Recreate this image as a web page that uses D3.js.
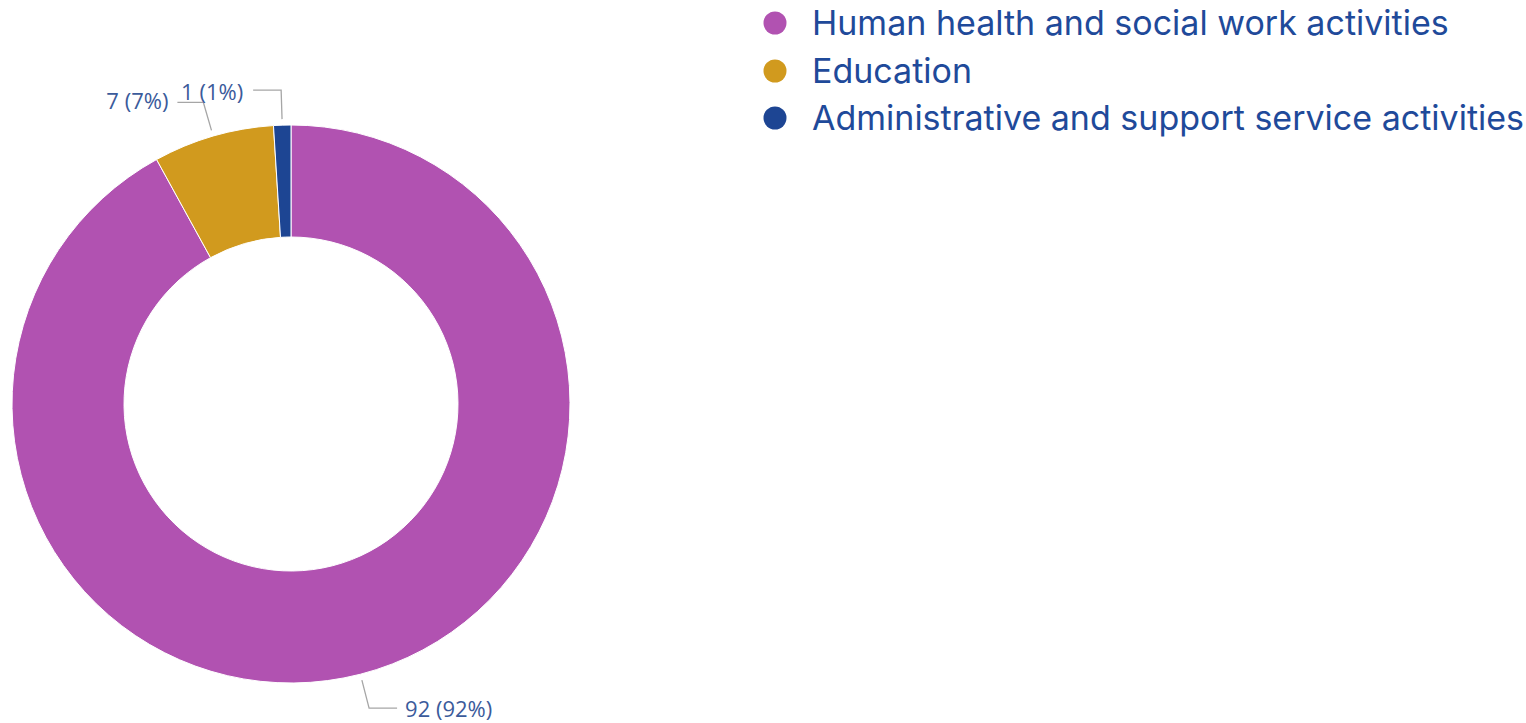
<!DOCTYPE html>
<html><head><meta charset="utf-8">
<script src="https://cdn.jsdelivr.net/npm/d3@7"></script>
<style>html,body{margin:0;padding:0;background:#fff;overflow:hidden}</style>
</head><body>
<svg id="chart" width="1526" height="723"></svg>
<script>
const categories = ["Human health and social work activities", "Education", "Administrative and support service activities"];
const values = [92, 7, 1];
const percents = ["92%", "7%", "1%"];
const colors = ["#B152B1", "#D19A1E", "#1D4593"];

const svg = d3.select("#chart");
const cx = 291, cy = 404, rOuter = 279, rInner = 167;
const g = svg.append("g").attr("transform", `translate(${cx},${cy})`);

const pie = d3.pie().sort(null).value(d => d)(values);
const arc = d3.arc().innerRadius(rInner).outerRadius(rOuter);
g.selectAll("path.slice").data(pie).join("path")
  .attr("class", "slice")
  .attr("d", arc)
  .attr("fill", (d, i) => colors[i])
  .attr("stroke", "#fff").attr("stroke-width", 1);

// labels with leader lines
const labelLayout = [
  {ext: 35, dir: 1, len: 28, gap: 8, dy: 9},
  {ext: 35, dir: -1, len: 26, gap: 9, dy: 7},
  {ext: 35, dir: -1, len: 28, gap: 10, dy: 10}
];
const labelFont = "'Segoe UI', 'Open Sans', 'Noto Sans', sans-serif";
pie.forEach((d, i) => {
  const L = labelLayout[i];
  const a = (d.startAngle + d.endAngle) / 2;
  const x0 = Math.sin(a) * (rOuter + 6), y0 = -Math.cos(a) * (rOuter + 6);
  const x1 = Math.sin(a) * (rOuter + L.ext), y1 = -Math.cos(a) * (rOuter + L.ext);
  const x2 = x1 + L.dir * L.len;
  g.append("polyline")
    .attr("points", `${x0},${y0} ${x1},${y1} ${x2},${y1}`)
    .attr("fill", "none").attr("stroke", "#a6a6a6").attr("stroke-width", 1.3);
  g.append("text")
    .attr("x", x2 + L.dir * L.gap)
    .attr("y", y1 + L.dy)
    .attr("text-anchor", L.dir > 0 ? "start" : "end")
    .attr("font-family", labelFont)
    .attr("font-size", 22)
    .attr("fill", "#3b5b9b")
    .text(`${values[i]} (${percents[i]})`);
});

// legend
const legend = svg.append("g");
const legY = [23, 71, 118];
categories.forEach((c, i) => {
  legend.append("circle").attr("cx", 775).attr("cy", legY[i]).attr("r", 11.5).attr("fill", colors[i]);
  legend.append("text")
    .attr("x", 812).attr("y", legY[i] + 11.5)
    .attr("font-family", "'Inter', 'Open Sans', sans-serif")
    .attr("font-size", 34)
    .attr("fill", "#1f4a9a")
    .text(c);
});
</script>
</body></html>
